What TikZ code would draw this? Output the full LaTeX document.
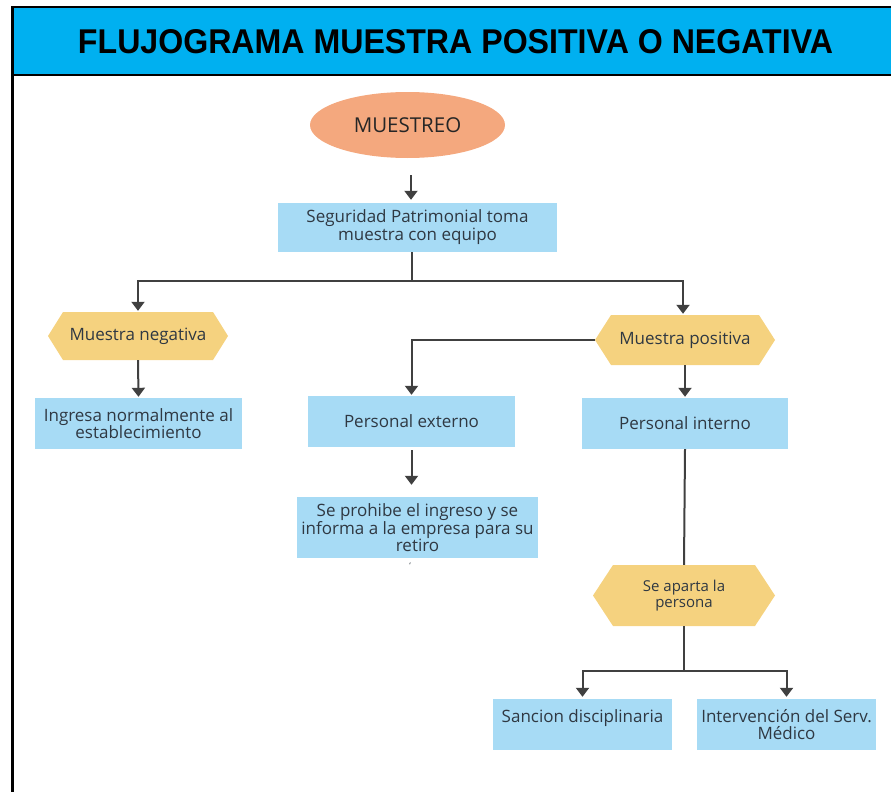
\documentclass[tikz,border=0pt]{standalone}
\usepackage{graphicx}
\usepackage{fontspec}
\setmainfont{Open Sans}
\newfontfamily\titlefont{Liberation Sans}
\usetikzlibrary{arrows.meta,shapes.geometric}
\definecolor{titleblue}{HTML}{00B0F0}
\definecolor{boxblue}{HTML}{A7DBF5}
\definecolor{hexgold}{HTML}{F5D27F}
\definecolor{salmonfill}{HTML}{F4A87E}
\definecolor{linegray}{HTML}{404040}
\definecolor{txt}{HTML}{2F3842}
\begin{document}
\begin{tikzpicture}[x=1pt,y=-1pt,
  box/.style={fill=boxblue, inner sep=0pt, align=center, text=txt,
    font=\fontsize{17}{17}\selectfont},
  hexnode/.style={inner sep=0pt, align=center, text=txt,
    font=\fontsize{17}{17}\selectfont,
    path picture={\fill[hexgold] (path picture bounding box.west)
      -- ([xshift=#1]path picture bounding box.north west)
      -- ([xshift=-#1]path picture bounding box.north east)
      -- (path picture bounding box.east)
      -- ([xshift=-#1]path picture bounding box.south east)
      -- ([xshift=#1]path picture bounding box.south west) -- cycle;}},
  conn/.style={draw=linegray, line width=2pt},
  arr/.style={conn, -{Triangle[width=13pt,length=9pt]}}
]
\useasboundingbox (0,0) rectangle (891,792);
% frame and title
\fill[titleblue] (12.5,7) rectangle (891,75);
\draw[line width=2.5pt] (891,7) -- (12.5,7) -- (12.5,792);
\draw[line width=2.5pt] (12.5,75) -- (891,75);
\node[inner sep=0pt] (title) at (455.5,41.5)
  {\resizebox{755pt}{24pt}{\titlefont\bfseries FLUJOGRAMA MUESTRA POSITIVA O NEGATIVA}};

% nodes
\node[ellipse, fill=salmonfill, minimum width=195pt, minimum height=66pt, inner sep=0pt,
  text=black!85, font=\fontsize{20.5}{22}\selectfont] (mu) at (407.5,125) {MUESTREO};
\node[box, minimum width=279pt, minimum height=49pt, font=\fontsize{17}{18}\selectfont] (seg) at (417.5,227.5)
  {Seguridad Patrimonial toma\\muestra con equipo};
\node[hexnode=15pt, minimum width=180pt, minimum height=48pt] (neg) at (138,336) {Muestra negativa};
\node[box, minimum width=207pt, minimum height=51pt] (ing) at (138.5,423.5)
  {Ingresa normalmente al\\establecimiento};
\node[hexnode=16pt, minimum width=180pt, minimum height=50pt] (pos) at (685,340) {Muestra positiva};
\node[box, minimum width=207pt, minimum height=51pt] (pext) at (411.5,421.5) {Personal externo};
\node[box, minimum width=206pt, minimum height=51pt] (pint) at (685,423.5) {Personal interno};
\node[box, minimum width=241pt, minimum height=61pt, font=\fontsize{17}{15.5}\selectfont] (proh) at (417.5,527.5)
  {Se prohibe el ingreso y se\\informa a la empresa para su\\retiro};
\node[inner sep=0pt, text=txt, font=\fontsize{8}{8}\selectfont] (tick) at (410,566) {`};
\node[hexnode=20pt, minimum width=182pt, minimum height=61pt,
  font=\fontsize{15}{16}\selectfont] (sep) at (684,595.5) {Se aparta la\\persona};
\node[box, minimum width=179pt, minimum height=51pt, text depth=16pt] (san) at (582.5,724.5)
  {Sancion disciplinaria};
\node[box, minimum width=179pt, minimum height=51pt] (med) at (786.5,724.5)
  {Intervención del Serv.\\Médico};

% connectors
\draw[arr, shorten <=17pt, shorten >=3pt] ([xshift=3.5pt]mu.south) -- ([xshift=-6.5pt]seg.north);
\coordinate (sp) at (412,281);
\draw[conn] ([xshift=-5.5pt]seg.south) -- (sp);
\draw[arr, shorten >=1pt] (sp) -| (neg.north);
\draw[arr, shorten >=1pt] (sp) -| ([xshift=-2pt]pos.north);
\draw[arr, shorten >=1pt] (neg.south) -- (ing.north);
\draw[arr, shorten >=1pt] (pos.west) -| (pext.north);
\draw[arr, shorten >=1pt] (pos.south) -- (pint.north);
\draw[arr, shorten <=3pt, shorten >=12pt] (pext.south) -- (pext.south |- proh.north);
\draw[conn] (pint.south) -- (sep.north);
\coordinate (sp2) at (684,671);
\draw[conn] (sep.south) -- (sp2);
\draw[arr, shorten >=2pt] (sp2) -| (san.north);
\draw[arr, shorten >=2pt] (sp2) -| (med.north);
\end{tikzpicture}
\end{document}
